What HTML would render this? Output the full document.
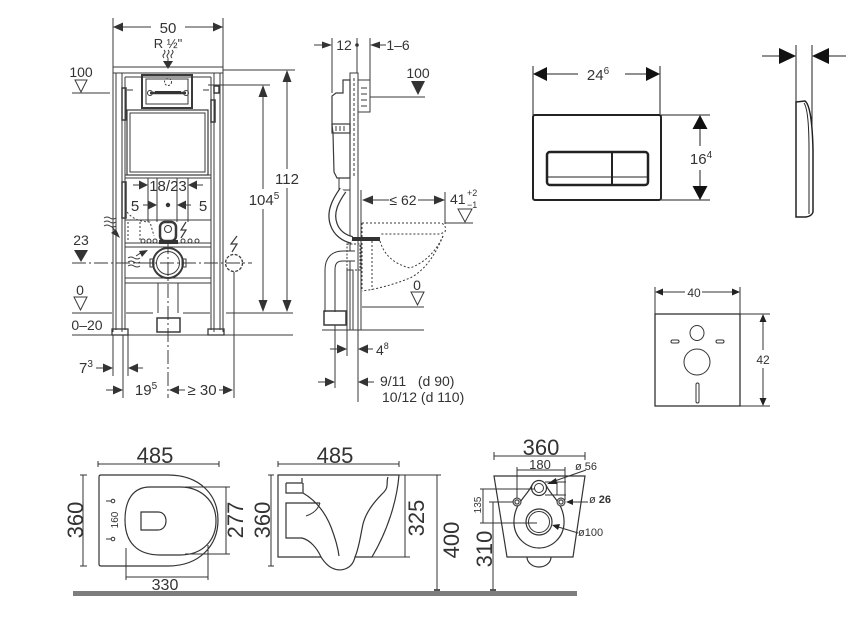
<!DOCTYPE html>
<html><head><meta charset="utf-8"><style>
html,body{margin:0;padding:0;background:#fff;}
svg{display:block}
text{font-family:"Liberation Sans",sans-serif;fill:#333}
</style></head><body>
<svg width="851" height="630" viewBox="0 0 851 630" xmlns="http://www.w3.org/2000/svg">
<rect width="851" height="630" fill="#fff"/>

<!-- ================= FRONT VIEW OF FRAME ================= -->
<g stroke="#3a3a3a" stroke-width="1" fill="none">
  <line x1="113" y1="18" x2="113" y2="67"/>
  <line x1="223" y1="18" x2="223" y2="67"/>
  <line x1="113" y1="27" x2="151" y2="27"/>
  <line x1="185" y1="27" x2="223" y2="27"/>
  <path d="M164,50 q2,2 0,4 q-2,2 0,4 M168,50 q2,2 0,4 q-2,2 0,4 M172,50 q2,2 0,4 q-2,2 0,4"/>
  <line x1="168" y1="58" x2="168" y2="64"/>
  <rect x="113" y="67" width="110" height="6"/>
  <line x1="113" y1="73" x2="113" y2="332"/>
  <line x1="116" y1="73" x2="116" y2="330"/>
  <line x1="122" y1="73" x2="122" y2="332"/>
  <line x1="125" y1="77" x2="125" y2="330"/>
  <line x1="223" y1="73" x2="223" y2="332"/>
  <line x1="220" y1="73" x2="220" y2="330"/>
  <line x1="214" y1="73" x2="214" y2="332"/>
  <line x1="211" y1="77" x2="211" y2="330"/>
  <line x1="125" y1="77" x2="211" y2="77"/>
  <rect x="112" y="329" width="16" height="6" stroke-width="1.3"/>
  <rect x="208" y="329" width="16" height="6" stroke-width="1.3"/>
  <rect x="142" y="75" width="50" height="33" stroke-width="2"/>
  <rect x="146" y="79" width="42" height="25"/>
  <circle cx="168" cy="82" r="3.5" stroke-dasharray="2 1.5"/>
  <line x1="150" y1="93" x2="186" y2="93" stroke-width="2.5"/>
  <circle cx="150" cy="93" r="2.5"/><circle cx="186" cy="93" r="2.5"/>
  <line x1="127" y1="90" x2="133" y2="90"/><line x1="203" y1="90" x2="209" y2="90"/>
  <rect x="214" y="86" width="5" height="7" stroke-width="1.5"/>
  <rect x="122" y="88" width="4" height="32" stroke-width="1.5"/>
  <rect x="211" y="100" width="4" height="22" stroke-width="1.5"/>
  <rect x="127" y="110" width="81" height="65" stroke-width="1.2"/>
  <rect x="130" y="113" width="75" height="59"/>
  <line x1="125" y1="175" x2="211" y2="175"/>
  <line x1="125" y1="178" x2="211" y2="178"/>
  <rect x="122" y="182" width="4" height="36" stroke-width="1.5"/>
  <line x1="148" y1="178" x2="148" y2="222"/>
  <line x1="157" y1="178" x2="157" y2="222"/>
  <line x1="177" y1="178" x2="177" y2="222"/>
  <line x1="188" y1="178" x2="188" y2="222"/>
  <line x1="133" y1="185" x2="140" y2="185"/>
  <line x1="196" y1="185" x2="203" y2="185"/>
  <line x1="143" y1="205" x2="148" y2="205"/>
  <line x1="186" y1="205" x2="191" y2="205"/>
  <line x1="125" y1="220" x2="211" y2="220"/>
  <path d="M127,212 Q135,222 150,222 L154,236" stroke-dasharray="2 2"/>
  <path d="M128,222 L128,240 M140,222 L140,240" stroke-dasharray="2 2"/>
  <rect x="160" y="222" width="16" height="19" rx="5" stroke-width="2.5"/>
  <circle cx="168" cy="229" r="3.5"/>
  <path d="M186,222 L181,230 L186,230 L181,238" stroke-width="1.2"/>
  <line x1="125" y1="243" x2="211" y2="243"/>
  <line x1="125" y1="247" x2="211" y2="247"/>
  <circle cx="143" cy="241" r="2"/><circle cx="149" cy="241" r="2"/><circle cx="155" cy="241" r="2"/>
  <circle cx="183" cy="241" r="2"/><circle cx="190" cy="241" r="2"/><circle cx="197" cy="241" r="2"/>
  <path d="M104,218 q3,-2 6,0 q3,2 6,0 M104,222 q3,-2 6,0 q3,2 6,0 M104,226 q3,-2 6,0 q3,2 6,0"/>
  <line x1="112" y1="227" x2="118" y2="234"/>
  <path d="M128,258 q3,-2 6,0 q3,2 6,0 M128,262 q3,-2 6,0 q3,2 6,0 M128,266 q3,-2 6,0 q3,2 6,0"/>
  <line x1="136" y1="256" x2="142" y2="252"/>
  <circle cx="168" cy="263" r="15" stroke-width="2"/>
  <circle cx="168" cy="263" r="11.5"/>
  <rect x="150" y="259" width="4" height="8"/><rect x="182" y="259" width="4" height="8"/>
  <line x1="72" y1="263" x2="252" y2="263" stroke-dasharray="14 3 2 3"/>
  <line x1="168" y1="240" x2="168" y2="398" stroke-dasharray="14 3 2 3"/>
  <circle cx="234" cy="263" r="8.5" stroke-dasharray="3 1.5" stroke-width="1.3"/>
  <path d="M237,236 L231,244 L237,244 L232,252" stroke-width="1.2"/>
  <line x1="234" y1="272" x2="234" y2="398"/>
  <line x1="125" y1="278" x2="211" y2="278"/>
  <line x1="125" y1="283" x2="211" y2="283"/>
  <line x1="158" y1="283" x2="158" y2="313"/>
  <line x1="178" y1="283" x2="178" y2="313"/>
  <rect x="157" y="318" width="23" height="14" stroke-width="1.5"/>
  <line x1="72" y1="93" x2="110" y2="93"/>
  <line x1="72" y1="313" x2="112" y2="313"/>
  <line x1="126" y1="313" x2="153" y2="313"/>
  <line x1="183" y1="313" x2="210" y2="313"/>
  <line x1="226" y1="313" x2="293" y2="313"/>
  <line x1="72" y1="335" x2="293" y2="335"/>
  <line x1="223" y1="70" x2="295" y2="70"/>
  <line x1="208" y1="85" x2="270" y2="85"/>
  <line x1="287" y1="80" x2="287" y2="169"/>
  <line x1="287" y1="188" x2="287" y2="302"/>
  <line x1="263" y1="95" x2="263" y2="189"/>
  <line x1="263" y1="209" x2="263" y2="302"/>
  <line x1="113" y1="335" x2="113" y2="376"/>
  <line x1="123" y1="335" x2="123" y2="398"/>
  <line x1="128" y1="335" x2="128" y2="376"/>
  <line x1="96" y1="368" x2="104" y2="368"/>
  <line x1="137" y1="368" x2="143" y2="368"/>
  <line x1="106" y1="390" x2="114" y2="390"/>
  <line x1="179" y1="390" x2="185" y2="390"/>
  <line x1="219" y1="390" x2="225" y2="390"/>
</g>
<g fill="#333">
  <polygon points="113,27 123,22.5 123,31.5"/>
  <polygon points="223,27 213,22.5 213,31.5"/>
  <polygon points="163,61 173,61 168,69"/>
  <polygon points="287,70 282.5,82 291.5,82"/>
  <polygon points="287,312 282.5,300 291.5,300"/>
  <polygon points="263,85 258.5,97 267.5,97"/>
  <polygon points="263,312 258.5,300 267.5,300"/>
  <polygon points="148,185 139,180.5 139,189.5"/>
  <polygon points="188,185 197,180.5 197,189.5"/>
  <polygon points="157,205 148,200.5 148,209.5"/>
  <polygon points="177,205 186,200.5 186,209.5"/>
  <circle cx="168" cy="205" r="2.2"/>
  <polygon points="120,238 111,233 116,229"/>
  <polygon points="148,250 139,251 142,257"/>
  <polygon points="74,250 88,250 81,262"/>
  <polygon points="113,368 103,363.5 103,372.5"/>
  <polygon points="128,368 138,363.5 138,372.5"/>
  <polygon points="123,390 113,385.5 113,394.5"/>
  <polygon points="169,390 179,385.5 179,394.5"/>
  <polygon points="233,390 223,385.5 223,394.5"/>
  <rect x="155" y="91" width="26" height="3"/>
  <rect x="159" y="240" width="19" height="4"/>
</g>
<g fill="none" stroke="#3a3a3a" stroke-width="1">
  <polygon points="75,80 87,80 81,92"/>
  <polygon points="74,297 87,297 80.5,310"/>
</g>
<g font-size="15" text-anchor="middle">
  <text x="168" y="33">50</text>
  <text x="168" y="48" font-size="13">R ½"</text>
  <text x="81" y="77" font-size="14">100</text>
  <text x="81" y="245" font-size="14">23</text>
  <text x="80" y="295" font-size="14">0</text>
  <text x="87" y="330" font-size="14">0–20</text>
  <text x="168" y="191">18/23</text>
  <text x="135" y="211">5</text>
  <text x="203" y="211">5</text>
  <text x="287" y="184">112</text>
  <text x="264" y="205">104<tspan font-size="10" dy="-6">5</tspan></text>
  <text x="86" y="373">7<tspan font-size="10" dy="-6">3</tspan></text>
  <text x="146" y="395">19<tspan font-size="10" dy="-6">5</tspan></text>
  <text x="202" y="395">≥ 30</text>
</g>

<!-- ================= SIDE VIEW OF FRAME ================= -->
<g stroke="#3a3a3a" stroke-width="1" fill="none">
  <line x1="332" y1="38" x2="332" y2="93"/>
  <line x1="357" y1="38" x2="357" y2="73"/>
  <line x1="370" y1="38" x2="370" y2="83"/>
  <line x1="314" y1="45" x2="323" y2="45"/>
  <line x1="379" y1="45" x2="386" y2="45"/>
  <rect x="350" y="73" width="8" height="257"/>
  <line x1="354" y1="78" x2="354" y2="178" stroke-dasharray="3 2"/>
  <rect x="358" y="80" width="12" height="32"/>
  <path d="M361,88 h6 M361,94 h6 M361,100 h6 M361,106 h6"/>
  <line x1="370" y1="97" x2="425" y2="97"/>
  <path d="M343,80 L350,80 L350,178 L337,178 L334,172 L333,133 L332,125 L332,96 L336,93 L343,93 Z" stroke-width="1.2"/>
  <rect x="332" y="124" width="18" height="9" stroke-width="1.2"/>
  <path d="M336,126 v5 M340,126 v5 M344,126 v5"/>
  <rect x="339" y="178" width="11" height="12"/>
  <line x1="361" y1="190" x2="361" y2="330"/>
  <path d="M343,190 C336,200 329,212 334,225 C337,233 344,238 352,240" stroke="#333" stroke-width="8"/>
  <path d="M343,190 C336,200 329,212 334,225 C337,233 344,238 352,240" stroke="#fff" stroke-width="5.5"/>
  <path d="M355,256 L343,256 Q330,256 330,270 L330,312" stroke="#333" stroke-width="11"/>
  <path d="M355,256 L343,256 Q330,256 330,270 L330,312" stroke="#fff" stroke-width="9"/>
  <rect x="324" y="311" width="22" height="14" stroke-width="1.5"/>
  <rect x="347" y="244" width="13" height="26" stroke-dasharray="2 1.5"/>
  <rect x="347" y="270" width="6" height="60"/>
  <g stroke-dasharray="2 2">
    <path d="M362,223 L440,223 Q447,224 445,232 L440,234 L380,234"/>
    <path d="M380,241 Q386,262 410,268 Q432,260 443,236"/>
    <path d="M443,236 Q430,268 410,278 Q385,288 362,291"/>
    <line x1="362" y1="223" x2="362" y2="291"/>
    <line x1="372" y1="241" x2="372" y2="290"/>
  </g>
  <line x1="372" y1="200" x2="389" y2="200"/>
  <line x1="418" y1="200" x2="435" y2="200"/>
  <line x1="445" y1="192" x2="445" y2="224"/>
  <line x1="445" y1="223" x2="473" y2="223"/>
  <line x1="362" y1="307" x2="424" y2="307"/>
  <line x1="322" y1="330" x2="424" y2="330"/>
  <line x1="335" y1="325" x2="335" y2="388"/>
  <line x1="347" y1="325" x2="347" y2="356"/>
  <line x1="358" y1="330" x2="358" y2="402"/>
  <line x1="330" y1="349" x2="338" y2="349"/>
  <line x1="367" y1="349" x2="373" y2="349"/>
  <line x1="318" y1="382" x2="326" y2="382"/>
  <line x1="367" y1="382" x2="374" y2="382"/>
</g>
<g fill="#333">
  <polygon points="332,45 322,41.5 322,48.5"/>
  <circle cx="357" cy="45" r="1.8"/>
  <polygon points="370,45 380,41.5 380,48.5"/>
  <polygon points="411,81 425,81 418,95"/>
  <rect x="352" y="237" width="28" height="4"/>
  <polygon points="362,200 373,195.5 373,204.5"/>
  <polygon points="445,200 434,195.5 434,204.5"/>
  <polygon points="347,349 337,344.5 337,353.5"/>
  <polygon points="358,349 368,344.5 368,353.5"/>
  <polygon points="335,382 325,377.5 325,386.5"/>
  <polygon points="358,382 368,377.5 368,386.5"/>
</g>
<g fill="none" stroke="#3a3a3a">
  <polygon points="458,209 472,209 465,222"/>
  <polygon points="411,292 424,292 417.5,305"/>
</g>
<g font-size="14">
  <text x="344" y="50" text-anchor="middle">12</text>
  <text x="398" y="50" text-anchor="middle">1–6</text>
  <text x="418" y="78" text-anchor="middle">100</text>
  <text x="403" y="205" text-anchor="middle">≤ 62</text>
  <text x="450" y="204">41</text>
  <text x="467" y="196" font-size="9">+2</text>
  <text x="467" y="208" font-size="9">−1</text>
  <text x="417" y="290" text-anchor="middle">0</text>
  <text x="376" y="355">4<tspan font-size="9" dy="-6">8</tspan></text>
  <text x="380" y="386">9/11&#160;&#160;&#160;(d 90)</text>
  <text x="382" y="402">10/12 (d 110)</text>
</g>

<!-- ================= FLUSH PLATE ================= -->
<g stroke="#222" fill="none" stroke-width="1">
  <line x1="533" y1="66" x2="533" y2="115"/>
  <line x1="660" y1="66" x2="660" y2="115"/>
  <line x1="546" y1="74" x2="578" y2="74"/>
  <line x1="625" y1="74" x2="647" y2="74"/>
  <rect x="533" y="115" width="128" height="85" rx="2" stroke-width="2"/>
  <rect x="547" y="152" width="101" height="33" rx="3" stroke-width="2.5"/>
  <line x1="612" y1="152" x2="612" y2="185" stroke-width="2"/>
  <line x1="548" y1="177" x2="647" y2="177"/>
  <line x1="661" y1="115" x2="710" y2="115"/>
  <line x1="661" y1="200" x2="710" y2="200"/>
  <line x1="700" y1="128" x2="700" y2="146"/>
  <line x1="700" y1="170" x2="700" y2="187"/>
  <line x1="796" y1="45" x2="796" y2="102"/>
  <line x1="812" y1="45" x2="812" y2="130"/>
  <line x1="762" y1="56" x2="780" y2="56"/>
  <line x1="828" y1="56" x2="846" y2="56"/>
  <path d="M796,102 L805,101 Q812,106 813,150 L813,212 Q812,216 806,217 L796,217 Z" stroke-width="1.5"/>
  <path d="M804,103 Q809,110 809,150 L809,214"/>
</g>
<g fill="#111">
  <polygon points="533,74 547,67 547,81"/>
  <polygon points="660,74 646,67 646,81"/>
  <polygon points="700,115 692.5,129 707.5,129"/>
  <polygon points="700,200 692.5,186 707.5,186"/>
  <polygon points="796,56 779,48 779,64"/>
  <polygon points="812,56 829,48 829,64"/>
</g>
<text x="598" y="80" font-size="15" text-anchor="middle" fill="#111">24<tspan font-size="10" dy="-6">6</tspan></text>
<text x="701" y="164" font-size="15" text-anchor="middle" fill="#111">16<tspan font-size="10" dy="-6">4</tspan></text>

<!-- ================= 40 x 42 PLATE ================= -->
<g stroke="#333" fill="none" stroke-width="1">
  <line x1="655" y1="287" x2="655" y2="314"/>
  <line x1="740" y1="287" x2="740" y2="314"/>
  <line x1="661" y1="292" x2="685" y2="292"/>
  <line x1="702" y1="292" x2="734" y2="292"/>
  <rect x="655" y="314" width="85" height="92" stroke-width="1.3"/>
  <line x1="740" y1="314" x2="770" y2="314"/>
  <line x1="740" y1="406" x2="770" y2="406"/>
  <line x1="763" y1="320" x2="763" y2="350"/>
  <line x1="763" y1="368" x2="763" y2="400"/>
  <ellipse cx="697" cy="333" rx="7" ry="7.5"/>
  <rect x="671" y="340" width="8" height="3" rx="1.5"/>
  <rect x="716" y="340" width="8" height="3" rx="1.5"/>
  <circle cx="697" cy="362" r="13"/>
  <rect x="696" y="383" width="3" height="20" rx="1.5"/>
</g>
<g fill="#222">
  <polygon points="655,292 663,288.5 663,295.5"/>
  <polygon points="740,292 732,288.5 732,295.5"/>
  <polygon points="763,314 759.5,322 766.5,322"/>
  <polygon points="763,406 759.5,398 766.5,398"/>
</g>
<text x="694" y="297" font-size="12" text-anchor="middle">40</text>
<text x="763" y="364" font-size="12" text-anchor="middle">42</text>

<!-- ================= TOILET DRAWINGS ================= -->
<g stroke="#333" fill="none" stroke-width="1">
  <line x1="98" y1="464" x2="219" y2="464"/>
  <line x1="98" y1="461" x2="98" y2="467"/><line x1="219" y1="461" x2="219" y2="467"/>
  <path d="M99,477 Q99,475 101,475 L168,475 C200,475 218,495 218,520 C218,545 200,566 168,566 L101,566 Q99,566 99,564 Z" stroke-width="1.2"/>
  <path d="M150,487 C133,487 125,500 125,520 C125,542 137,555 160,555 L180,555 C203,555 216,540 216,521 C216,500 200,487 180,487 Z" stroke-width="1.2"/>
  <path d="M141,512 L158,512 C164,512 166,517 166,521 C166,527 162,530 158,530 L141,530 Z" stroke-width="1.2"/>
  <line x1="83" y1="475" x2="83" y2="566"/>
  <line x1="80" y1="475" x2="87" y2="475"/><line x1="80" y1="566" x2="87" y2="566"/>
  <line x1="106" y1="501" x2="111" y2="501"/><line x1="106" y1="539" x2="111" y2="539"/>
  <circle cx="113" cy="501" r="1.8"/><circle cx="113" cy="539" r="1.8"/>
  <line x1="185" y1="487" x2="230" y2="487"/><line x1="185" y1="554" x2="230" y2="554"/>
  <line x1="226" y1="487" x2="226" y2="554"/>
  <line x1="126" y1="548" x2="126" y2="580"/><line x1="208" y1="545" x2="208" y2="580"/>
  <line x1="126" y1="577" x2="208" y2="577"/>
  <line x1="278" y1="464" x2="399" y2="464"/>
  <line x1="278" y1="461" x2="278" y2="467"/><line x1="399" y1="461" x2="399" y2="467"/>
  <path d="M278,475 L399,475 C397,500 388,530 372,557 L355,557 C352,570 340,572 332,568 C326,565 323,560 321,557 L278,557 Z" stroke-width="1.2"/>
  <path d="M286,483 L302,483 L302,478 M286,483 L286,493 L303,493 L303,483 M303,493 C315,500 325,512 331,527 C336,540 338,548 339,556" stroke-width="1.2"/>
  <path d="M388,477 C386,482 389,487 384,492 C374,502 366,512 363,524 C360,538 359,548 355,557" stroke-width="1.2"/>
  <path d="M320,503 L286,503 L286,538 L302,538 C310,540 317,548 321,557" stroke-width="1.2"/>
  <path d="M320,503 C318,510 312,514 306,516" stroke-width="1"/>
  <line x1="271" y1="475" x2="271" y2="566"/>
  <line x1="268" y1="475" x2="274" y2="475"/><line x1="268" y1="566" x2="274" y2="566"/>
  <line x1="399" y1="475" x2="441" y2="475"/>
  <line x1="372" y1="557" x2="410" y2="557"/>
  <line x1="405" y1="475" x2="405" y2="557"/>
  <line x1="437" y1="475" x2="437" y2="591"/>
  <line x1="494" y1="456" x2="585" y2="456"/>
  <line x1="494" y1="452" x2="494" y2="460"/><line x1="585" y1="452" x2="585" y2="460"/>
  <line x1="517" y1="470" x2="565" y2="470"/>
  <line x1="517" y1="467" x2="517" y2="500"/><line x1="565" y1="467" x2="565" y2="500"/>
  <polygon points="494,476 585,476 573,557 507,557" stroke-width="1.2"/>
  <path d="M532,485 C528,495 515,502 514,520 C513,538 527,548 539,548 C551,548 565,538 564,520 C563,502 550,495 546,485" stroke-width="1.2"/>
  <circle cx="539" cy="488" r="7.5" stroke-width="1.2"/>
  <circle cx="539" cy="488" r="4.5"/>
  <circle cx="517" cy="502" r="4" fill="#ccc"/><circle cx="517" cy="502" r="2" fill="#fff"/>
  <circle cx="561" cy="502" r="4" fill="#ccc"/><circle cx="561" cy="502" r="2" fill="#fff"/>
  <circle cx="539" cy="522" r="13" stroke-width="1.2"/>
  <circle cx="539" cy="522" r="10.5"/>
  <path d="M527,557 A12,10 0 0 0 551,557" stroke-width="1.2"/>
  <line x1="545" y1="482" x2="566" y2="482"/><line x1="545" y1="495" x2="566" y2="495"/>
  <line x1="557" y1="482" x2="557" y2="495"/>
  <line x1="480" y1="489" x2="535" y2="489"/>
  <line x1="480" y1="523" x2="537" y2="523"/>
  <line x1="489" y1="502" x2="513" y2="502"/>
  <line x1="483" y1="489" x2="483" y2="523"/>
  <line x1="493" y1="502" x2="493" y2="591"/>
  <line x1="586" y1="470" x2="549" y2="483"/>
  <line x1="588" y1="502" x2="569" y2="502"/>
  <line x1="578" y1="533" x2="555" y2="526"/>
</g>
<g fill="#222">
  <polygon points="547,484 556,478 557,484"/>
  <polygon points="566,502 573,499 573,505"/>
  <polygon points="552,525 560,524 558,530"/>
</g>
<rect x="73" y="591" width="504" height="5" fill="#7d7d7d"/>
<rect x="434" y="589" width="6" height="2" fill="#555"/>
<rect x="490" y="589" width="6" height="2" fill="#555"/>
<g fill="#1a1a1a" font-size="22">
  <text x="155" y="463" text-anchor="middle">485</text>
  <text x="335" y="463" text-anchor="middle">485</text>
  <text x="541" y="455" text-anchor="middle">360</text>
  <text x="540" y="469" text-anchor="middle" font-size="13">180</text>
  <text x="165" y="590" text-anchor="middle" font-size="16">330</text>
  <text transform="translate(83,520) rotate(-90)" text-anchor="middle">360</text>
  <text transform="translate(270,520) rotate(-90)" text-anchor="middle">360</text>
  <text transform="translate(243,520) rotate(-90)" text-anchor="middle">277</text>
  <text transform="translate(424,518) rotate(-90)" text-anchor="middle">325</text>
  <text transform="translate(459,540) rotate(-90)" text-anchor="middle">400</text>
  <text transform="translate(492,549) rotate(-90)" text-anchor="middle">310</text>
  <text transform="translate(118,520) rotate(-90)" text-anchor="middle" font-size="10">160</text>
  <text transform="translate(481,505) rotate(-90)" text-anchor="middle" font-size="10">135</text>
  <text x="575" y="470" font-size="11">ø 56</text>
  <text x="589" y="503" font-size="11">ø <tspan font-weight="bold">26</tspan></text>
  <text x="578" y="536" font-size="11">ø100</text>
</g>
</svg>
</body></html>
